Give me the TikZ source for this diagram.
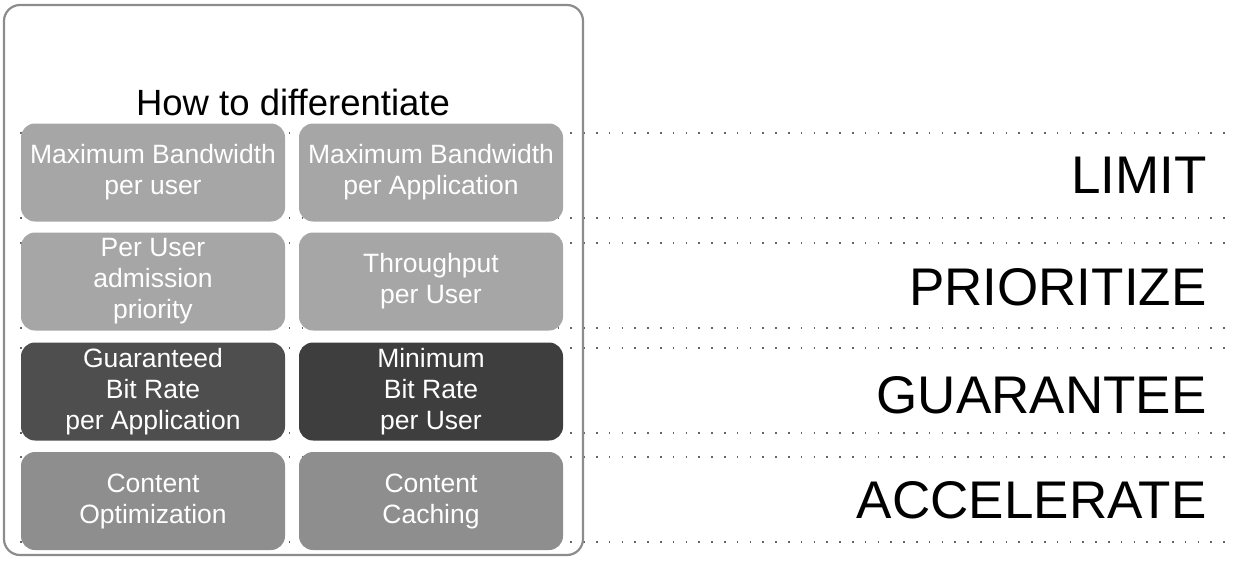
\documentclass[tikz,border=0pt]{standalone}
\usepackage{fontspec}
\setmainfont{Liberation Sans}
\definecolor{lightcell}{HTML}{A6A6A6}
\definecolor{midcell}{HTML}{8E8E8E}
\definecolor{darkcell}{HTML}{4E4E4E}
\definecolor{darkercell}{HTML}{3E3E3E}
\begin{document}
\begin{tikzpicture}[x=1pt,y=-1pt,
  cell/.style={rounded corners=14pt, minimum width=264pt, minimum height=98pt, inner sep=0pt,
    text=white, align=center, font=\fontsize{26.5}{31}\selectfont},
  level/.style={anchor=base east, font=\fontsize{53}{60}\selectfont},
  guide/.style={black!60, line width=1.5pt, dash pattern=on 1.5pt off 11.3pt}]
\useasboundingbox (0,0) rectangle (1233,560);
\foreach \y in {133,218,243,328,348,433,457,542}
  \draw[guide] (20,\y) -- (1233,\y);
\draw[black!45, line width=2.2pt, rounded corners=16pt] (4,5) rectangle (583,555);
\node[anchor=base, font=\fontsize{36.5}{40}\selectfont] (title) at (293,115) {How to differentiate};
\node[cell, fill=lightcell] (bwuser) at (153,172.5) {Maximum Bandwidth\\per user};
\node[cell, fill=lightcell] (bwapp) at (431,172.5) {Maximum Bandwidth\\per Application};
\node[cell, fill=lightcell] (admit) at (153,281.5) {Per User\\admission\\priority};
\node[cell, fill=lightcell] (thruput) at (431,281.5) {Throughput\\per User};
\node[cell, fill=darkcell] (gbr) at (153,391.5) {Guaranteed\\Bit Rate\\per Application};
\node[cell, fill=darkercell] (mbr) at (431,391.5) {Minimum\\Bit Rate\\per User};
\node[cell, fill=midcell] (optim) at (153,501) {Content\\Optimization};
\node[cell, fill=midcell] (cache) at (431,501) {Content\\Caching};
\node[level] (limit) at (1210,193) {LIMIT};
\node[level] (prio) at (1210,305) {PRIORITIZE};
\node[level] (guar) at (1210,413) {GUARANTEE};
\node[level] (accel) at (1210,518) {ACCELERATE};
\end{tikzpicture}
\end{document}
